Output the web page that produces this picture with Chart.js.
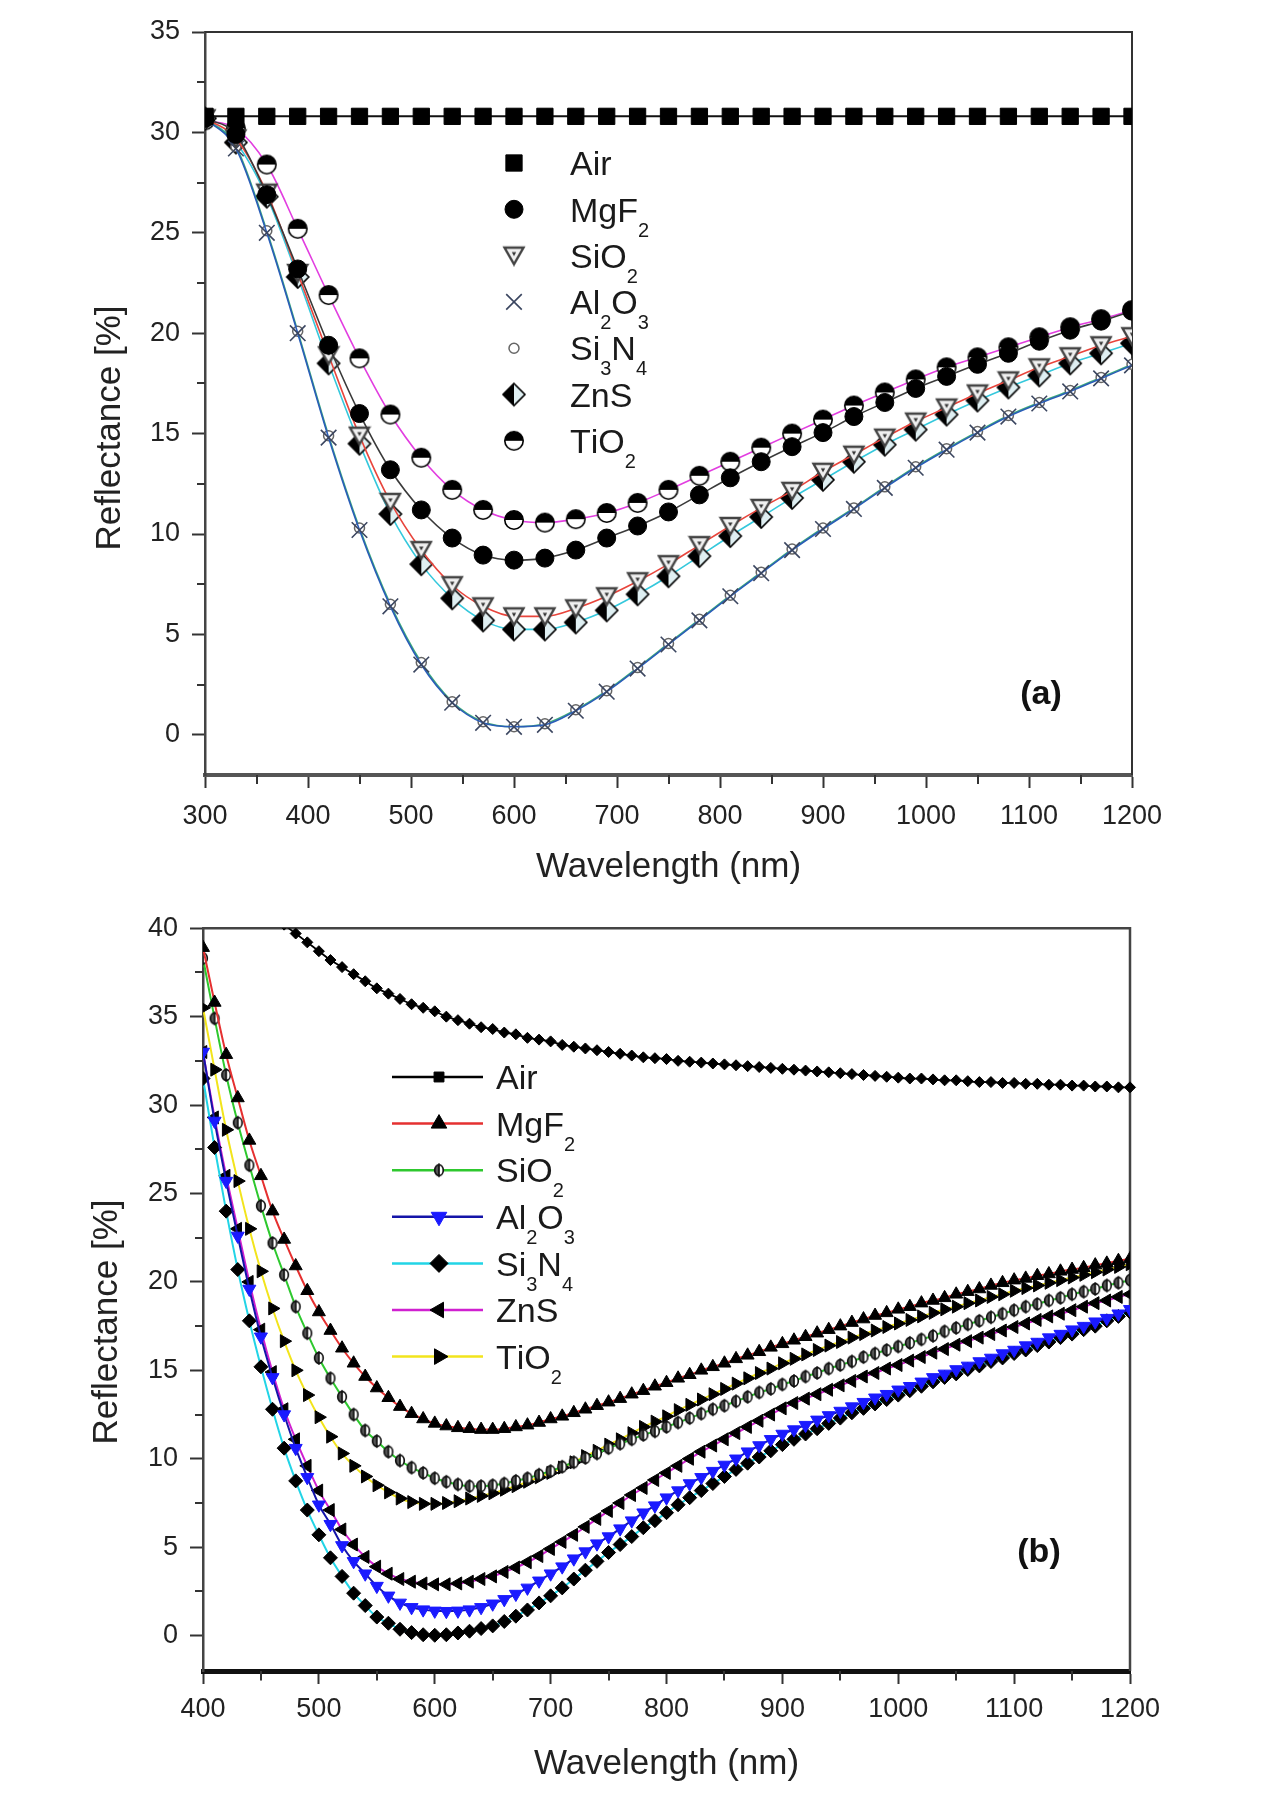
<!DOCTYPE html>
<html><head><meta charset="utf-8">
<script src="https://cdn.jsdelivr.net/npm/chart.js@4.4.1/dist/chart.umd.min.js"></script>
<style>
html,body{margin:0;padding:0;background:#fff;}
#wrap{position:relative;width:1280px;height:1808px;background:#fff;overflow:hidden;}
canvas{position:absolute;left:0;}
#ca{top:0;width:1280px;height:900px;}
#cb{top:900px;width:1280px;height:908px;}
</style></head><body>
<div id="wrap"><canvas id="ca" width="1280" height="900"></canvas><canvas id="cb" width="1280" height="908"></canvas></div>
<script>
// ---------- DATA ----------
const seriesNames = ['Air','MgF₂','SiO₂','Al₂O₃','Si₃N₄','ZnS','TiO₂'];
const xTitle = 'Wavelength (nm)';
const yTitle = 'Reflectance [%]';

// panel (a)
const xTicksA = [300,400,500,600,700,800,900,1000,1100,1200];
const yTicksA = [0,5,10,15,20,25,30,35];
const xMinorA = [350,450,550,650,750,850,950,1050,1150];
const yMinorA = [2.5,7.5,12.5,17.5,22.5,27.5,32.5];
const wavA = [300,330,360,390,420,450,480,510,540,570,600,630,660,690,720,750,780,810,840,870,900,930,960,990,1020,1050,1080,1110,1140,1170,1200];
const airA   = [30.8,30.8,30.8,30.8,30.8,30.8,30.8,30.8,30.8,30.8,30.8,30.8,30.8,30.8,30.8,30.8,30.8,30.8,30.8,30.8,30.8,30.8,30.8,30.8,30.8,30.8,30.8,30.8,30.8,30.8,30.8];
const mgf2A  = [30.7,29.9,26.9,23.2,19.4,16.0,13.2,11.2,9.8,8.95,8.7,8.8,9.2,9.8,10.4,11.1,11.95,12.8,13.6,14.35,15.05,15.85,16.55,17.25,17.85,18.45,19.0,19.6,20.15,20.6,21.1];
const sio2A  = [30.7,29.7,27.0,23.0,18.9,14.9,11.6,9.2,7.45,6.4,5.9,5.9,6.3,6.9,7.65,8.5,9.45,10.4,11.3,12.15,13.1,13.95,14.8,15.6,16.3,17.0,17.65,18.3,18.85,19.4,19.85];
const al2o3A = [30.7,29.2,25.0,20.0,14.8,10.2,6.4,3.5,1.6,0.6,0.4,0.5,1.2,2.15,3.3,4.5,5.7,6.9,8.05,9.2,10.25,11.25,12.3,13.3,14.2,15.05,15.85,16.5,17.1,17.75,18.4];
const si3n4A = [30.7,29.3,25.1,20.1,14.9,10.3,6.5,3.6,1.65,0.65,0.4,0.55,1.25,2.2,3.35,4.55,5.75,6.95,8.1,9.25,10.3,11.3,12.35,13.35,14.25,15.1,15.9,16.55,17.15,17.8,18.45];
const znsA   = [30.7,29.5,26.8,22.8,18.5,14.5,11.0,8.5,6.8,5.7,5.25,5.25,5.6,6.2,7.0,7.9,8.9,9.9,10.85,11.8,12.7,13.6,14.45,15.2,15.95,16.65,17.3,17.9,18.5,19.0,19.5];
const tio2A  = [30.6,30.2,28.4,25.2,21.9,18.75,15.95,13.8,12.2,11.2,10.7,10.57,10.74,11.05,11.55,12.2,12.9,13.6,14.3,15.0,15.7,16.4,17.05,17.7,18.3,18.8,19.3,19.8,20.3,20.7,21.15];

// panel (b)
const xTicksB = [400,500,600,700,800,900,1000,1100,1200];
const yTicksB = [0,5,10,15,20,25,30,35,40];
const xMinorB = [450,550,650,750,850,950,1050,1150];
const yMinorB = [2.5,7.5,12.5,17.5,22.5,27.5,32.5,37.5];
const wavB = [400,410,420,430,440,450,460,470,480,490,500,510,520,530,540,550,560,570,580,590,600,610,620,630,640,650,660,670,680,690,700,710,720,730,740,750,760,770,780,790,800,810,820,830,840,850,860,870,880,890,900,910,920,930,940,950,960,970,980,990,1000,1010,1020,1030,1040,1050,1060,1070,1080,1090,1100,1110,1120,1130,1140,1150,1160,1170,1180,1190,1200];
const airB = [47.0,45.6,44.3,43.2,42.3,41.5,40.8,40.2,39.7,39.2,
  38.7,38.2,37.8,37.4,37.0,36.6,36.3,36.0,35.7,35.5,
  35.3,35.0,34.8,34.6,34.4,34.3,34.1,34.0,33.8,33.7,
  33.6,33.4,33.3,33.2,33.1,33.0,32.9,32.8,32.7,32.65,
  32.6,32.5,32.45,32.4,32.35,32.3,32.25,32.2,32.15,32.1,
  32.05,32.0,31.95,31.9,31.85,31.8,31.75,31.7,31.65,31.6,
  31.55,31.5,31.5,31.45,31.4,31.4,31.35,31.3,31.3,31.25,
  31.25,31.2,31.2,31.15,31.15,31.1,31.1,31.05,31.05,31.0,
  31.0];
const mgf2B = [38.9,35.8,32.85,30.4,28.0,26.0,24.0,22.4,20.9,19.5,
  18.3,17.25,16.25,15.4,14.65,14.0,13.45,12.95,12.55,12.25,
  12.0,11.85,11.75,11.7,11.65,11.65,11.7,11.8,11.9,12.05,
  12.25,12.4,12.6,12.8,13.0,13.2,13.4,13.65,13.85,14.1,
  14.3,14.55,14.75,15.0,15.2,15.4,15.65,15.85,16.05,16.3,
  16.5,16.7,16.9,17.1,17.3,17.5,17.7,17.9,18.1,18.25,
  18.45,18.6,18.8,18.95,19.1,19.3,19.45,19.6,19.8,19.95,
  20.1,20.2,20.35,20.45,20.6,20.7,20.8,20.95,21.05,21.2,
  21.3];
const sio2B = [38.3,34.9,31.7,29.0,26.6,24.3,22.2,20.4,18.6,17.1,
  15.7,14.55,13.5,12.5,11.6,11.0,10.4,9.9,9.5,9.2,
  8.9,8.7,8.55,8.45,8.45,8.5,8.6,8.75,8.9,9.1,
  9.3,9.55,9.8,10.05,10.3,10.6,10.85,11.1,11.35,11.55,
  11.8,12.05,12.3,12.55,12.8,13.0,13.25,13.5,13.75,13.95,
  14.2,14.4,14.65,14.85,15.1,15.3,15.5,15.75,15.95,16.15,
  16.35,16.55,16.75,16.95,17.2,17.4,17.6,17.8,18.0,18.2,
  18.4,18.6,18.75,18.95,19.1,19.3,19.45,19.6,19.8,19.95,
  20.1];
const al2o3B = [33.0,29.1,25.7,22.6,19.6,16.9,14.6,12.5,10.6,8.95,
  7.4,6.3,5.1,4.2,3.5,2.8,2.25,1.85,1.6,1.47,
  1.4,1.38,1.4,1.47,1.6,1.8,2.05,2.35,2.7,3.1,
  3.5,3.9,4.35,4.75,5.2,5.6,6.05,6.5,6.95,7.35,
  7.8,8.2,8.6,8.95,9.3,9.65,10.0,10.4,10.75,11.1,
  11.4,11.65,11.9,12.2,12.45,12.7,12.95,13.2,13.45,13.65,
  13.9,14.1,14.35,14.6,14.8,15.05,15.25,15.5,15.7,15.95,
  16.15,16.4,16.6,16.85,17.05,17.3,17.5,17.75,17.95,18.2,
  18.45];
const si3n4B = [31.5,27.6,24.0,20.7,17.8,15.2,12.8,10.6,8.75,7.1,
  5.7,4.4,3.35,2.4,1.7,1.05,0.7,0.36,0.17,0.05,
  0.02,0.05,0.15,0.25,0.4,0.55,0.8,1.1,1.45,1.85,
  2.25,2.7,3.2,3.7,4.2,4.7,5.15,5.6,6.1,6.5,
  6.95,7.4,7.8,8.2,8.6,9.0,9.4,9.75,10.1,10.45,
  10.8,11.1,11.4,11.7,12.0,12.3,12.6,12.85,13.1,13.35,
  13.6,13.85,14.1,14.35,14.6,14.8,15.05,15.25,15.5,15.7,
  15.95,16.15,16.4,16.6,16.85,17.05,17.3,17.5,17.8,18.05,
  18.3];
const znsB = [33.0,29.3,26.0,23.0,20.0,17.3,14.9,12.8,11.1,9.6,
  8.2,7.1,6.0,5.15,4.45,3.9,3.5,3.2,3.05,2.95,
  2.9,2.9,2.95,3.05,3.2,3.35,3.6,3.85,4.15,4.5,
  4.9,5.3,5.7,6.15,6.6,7.05,7.5,7.95,8.35,8.8,
  9.2,9.6,10.0,10.4,10.75,11.1,11.45,11.8,12.15,12.5,
  12.85,13.15,13.4,13.65,13.9,14.15,14.4,14.65,14.85,15.1,
  15.3,15.55,15.75,16.0,16.2,16.45,16.65,16.85,17.05,17.25,
  17.45,17.65,17.85,18.05,18.2,18.4,18.6,18.8,18.95,19.15,
  19.3];
const tio2B = [35.5,32.0,28.6,25.7,23.0,20.6,18.5,16.65,15.0,13.6,
  12.35,11.25,10.3,9.6,9.0,8.5,8.1,7.75,7.55,7.45,
  7.45,7.5,7.6,7.75,7.9,8.05,8.25,8.45,8.7,8.95,
  9.2,9.5,9.8,10.15,10.45,10.8,11.1,11.45,11.8,12.1,
  12.4,12.75,13.05,13.35,13.65,13.95,14.25,14.55,14.85,15.1,
  15.4,15.65,15.9,16.15,16.4,16.6,16.85,17.05,17.25,17.45,
  17.65,17.85,18.05,18.25,18.45,18.6,18.8,18.95,19.15,19.3,
  19.5,19.65,19.8,19.95,20.1,20.25,20.4,20.55,20.7,20.85,
  21.0];

// ---------- RENDERING ----------
const FONT = '"Liberation Sans", Arial, Helvetica, sans-serif';
const pts = (xs, ys) => xs.map((x, i) => ({x: x, y: ys[i]}));

function mk(w, h, fn){ const c = document.createElement('canvas'); c.width = w; c.height = h; fn(c.getContext('2d')); return c; }

const imgTiO2 = mk(22, 22, g => {
  g.beginPath(); g.arc(11,11,9.2,0,Math.PI*2); g.fillStyle = '#fff'; g.fill();
  g.beginPath(); g.arc(11,11,9.2,Math.PI,Math.PI*2); g.closePath(); g.fillStyle = '#000'; g.fill();
  g.beginPath(); g.arc(11,11,9.2,0,Math.PI*2); g.lineWidth = 1.6; g.strokeStyle = '#000'; g.stroke();
});
const imgZnS = mk(26, 26, g => {
  const dia = () => { g.beginPath(); g.moveTo(13,2); g.lineTo(24,13); g.lineTo(13,24); g.lineTo(2,13); g.closePath(); };
  dia(); g.fillStyle = '#dfeff2'; g.fill();
  g.beginPath(); g.moveTo(13,2); g.lineTo(2,13); g.lineTo(13,24); g.closePath(); g.fillStyle = '#000'; g.fill();
  dia(); g.lineWidth = 1.6; g.strokeStyle = '#000'; g.stroke();
});
const imgSiO2a = mk(24, 22, g => {
  g.beginPath(); g.moveTo(2.5,3); g.lineTo(21.5,3); g.lineTo(12,19.5); g.closePath();
  g.fillStyle = '#f0f0f0'; g.fill(); g.lineWidth = 2.4; g.strokeStyle = '#444'; g.stroke();
  g.beginPath(); g.moveTo(9.8,7.5); g.lineTo(14.2,7.5); g.lineTo(12,11.5); g.closePath(); g.fillStyle = '#333'; g.fill();
});
const imgSiO2b = mk(14, 16, g => {
  g.beginPath(); g.ellipse(7,8,4.3,5.4,0,0,Math.PI*2); g.fillStyle = '#fff'; g.fill();
  g.beginPath(); g.ellipse(7,8,4.3,5.4,0,Math.PI*0.5,Math.PI*1.5); g.closePath(); g.fillStyle = '#555'; g.fill();
  g.beginPath(); g.ellipse(7,8,4.3,5.4,0,0,Math.PI*2);
  g.lineWidth = 1.7; g.strokeStyle = '#111'; g.stroke();
  g.beginPath(); g.moveTo(7,1.2); g.lineTo(7,14.8); g.stroke();
});

function richText(ctx, s, x, y, size, subSize, drop){
  let cx = x;
  for (const ch of s){
    const code = ch.codePointAt(0);
    if (code >= 0x2080 && code <= 0x2089){
      const d = String.fromCharCode(48 + code - 0x2080);
      ctx.font = subSize + 'px ' + FONT;
      ctx.fillText(d, cx, y + drop);
      cx += ctx.measureText(d).width;
    } else {
      ctx.font = size + 'px ' + FONT;
      ctx.fillText(ch, cx, y);
      cx += ctx.measureText(ch).width;
    }
  }
}

const decor = {
  id: 'decor',
  beforeDatasetsDraw(chart, args, o){
    const ctx = chart.ctx, a = chart.chartArea;
    const xs = chart.scales.x, ys = chart.scales.y;
    ctx.save();
    ctx.strokeStyle = o.frameColor; ctx.lineWidth = o.frameWidth;
    ctx.beginPath(); ctx.moveTo(a.left, a.top); ctx.lineTo(a.right, a.top); ctx.lineTo(a.right, a.bottom); ctx.stroke();
    ctx.strokeStyle = o.tickColor; ctx.lineWidth = 2;
    o.xMinor.forEach(v => { const p = Math.round(xs.getPixelForValue(v)); ctx.beginPath(); ctx.moveTo(p, a.bottom); ctx.lineTo(p, a.bottom + o.bottomHalf + o.minorLen); ctx.stroke(); });
    o.yMinor.forEach(v => { const p = Math.round(ys.getPixelForValue(v)); ctx.beginPath(); ctx.moveTo(a.left, p); ctx.lineTo(a.left - 1 - o.minorLen, p); ctx.stroke(); });
    ctx.restore();
  },
  afterDraw(chart, args, o){
    const ctx = chart.ctx;
    ctx.save();
    ctx.translate(o.yTitle.x, o.yTitle.y); ctx.rotate(-Math.PI/2);
    ctx.font = '35px ' + FONT; ctx.fillStyle = '#222'; ctx.textAlign = 'center'; ctx.textBaseline = 'middle';
    ctx.fillText(yTitle, 0, 0);
    ctx.restore();
    ctx.save();
    ctx.font = 'bold 34px ' + FONT; ctx.fillStyle = '#111'; ctx.textAlign = 'center'; ctx.textBaseline = 'middle';
    ctx.fillText(o.panel.text, o.panel.x, o.panel.y);
    ctx.restore();
    const L = o.legend;
    chart.data.datasets.forEach((ds, i) => {
      const y = L.y0 + i * L.dy;
      ctx.save();
      if (L.line){
        ctx.strokeStyle = ds.borderColor; ctx.lineWidth = 2.5;
        ctx.beginPath(); ctx.moveTo(L.line[0], y); ctx.lineTo(L.line[1], y); ctx.stroke();
      }
      const lp = ds.legendPoint || {};
      const style = lp.pointStyle !== undefined ? lp.pointStyle : ds.pointStyle;
      const radius = lp.radius !== undefined ? lp.radius : ds.pointRadius;
      const rotation = lp.rotation !== undefined ? lp.rotation : (ds.pointRotation || 0);
      ctx.fillStyle = ds.pointBackgroundColor || '#000';
      ctx.strokeStyle = ds.pointBorderColor || '#000';
      ctx.lineWidth = ds.pointBorderWidth || 1;
      Chart.helpers.drawPoint(ctx, {pointStyle: style, radius: radius, rotation: rotation, borderWidth: ds.pointBorderWidth || 1}, L.markerX, y);
      ctx.restore();
      ctx.save();
      ctx.fillStyle = '#1a1a1a'; ctx.textAlign = 'left'; ctx.textBaseline = 'alphabetic';
      richText(ctx, ds.label, L.textX, y + 0.36 * L.size, L.size, L.subSize, L.drop);
      ctx.restore();
    });
  }
};

function axes(xMin, xMax, yMin, yMax, xT, yT, yW, xH, xPad, titlePad, bottomW){
  const tickFont = {family: FONT, size: 27};
  return {
    x: {
      type: 'linear', min: xMin, max: xMax,
      afterBuildTicks: s => { s.ticks = xT.map(v => ({value: v})); },
      afterFit: s => { s.height = xH; },
      ticks: {autoSkip: false, maxRotation: 0, padding: xPad, color: '#222', font: tickFont, callback: v => String(v)},
      grid: {drawOnChartArea: false, drawTicks: true, tickLength: 13, tickWidth: 2, tickColor: '#333'},
      border: {display: true, color: bottomW > 4 ? '#111' : '#555', width: bottomW},
      title: {display: true, text: xTitle, color: '#222', font: {family: FONT, size: 35}, padding: {top: 0, bottom: titlePad}}
    },
    y: {
      type: 'linear', min: yMin, max: yMax,
      afterBuildTicks: s => { s.ticks = yT.map(v => ({value: v})); },
      afterFit: s => { s.width = yW; },
      ticks: {autoSkip: false, padding: 12, color: '#222', font: tickFont, callback: v => String(v)},
      grid: {drawOnChartArea: false, drawTicks: true, tickLength: 13, tickWidth: 2, tickColor: '#333'},
      border: {display: true, color: '#444', width: 2.5}
    }
  };
}

const common = (ds) => Object.assign({fill: false, cubicInterpolationMode: 'monotone', borderWidth: 1.6}, ds);

const dsA = [
  common({label: seriesNames[0], data: pts(wavA, airA), borderColor: '#111', borderWidth: 2, pointStyle: 'rect', pointRadius: 11.5, pointBackgroundColor: '#000', pointBorderColor: '#000', pointBorderWidth: 1}),
  common({label: seriesNames[1], data: pts(wavA, mgf2A), borderColor: '#3a3a3a', pointStyle: 'circle', pointRadius: 9, pointBackgroundColor: '#000', pointBorderColor: '#000', pointBorderWidth: 1}),
  common({label: seriesNames[2], data: pts(wavA, sio2A), borderColor: '#e8453c', pointStyle: imgSiO2a, pointRadius: 10}),
  common({label: seriesNames[3], data: pts(wavA, al2o3A), borderColor: '#2a5db8', pointStyle: 'crossRot', pointRadius: 11, pointBackgroundColor: 'rgba(0,0,0,0)', pointBorderColor: '#3b4660', pointBorderWidth: 1.6}),
  common({label: seriesNames[4], data: pts(wavA, si3n4A), borderColor: '#3fae7a', pointStyle: 'circle', pointRadius: 5, pointBackgroundColor: '#fff', pointBorderColor: '#666', pointBorderWidth: 1.5}),
  common({label: seriesNames[5], data: pts(wavA, znsA), borderColor: '#35c8dc', pointStyle: imgZnS, pointRadius: 11}),
  common({label: seriesNames[6], data: pts(wavA, tio2A), borderColor: '#e23ee0', pointStyle: imgTiO2, pointRadius: 10})
];

const dsB = [
  common({label: seriesNames[0], data: pts(wavB, airB), borderColor: '#000', borderWidth: 1.8, pointStyle: 'rectRot', pointRadius: 5.5, pointBackgroundColor: '#000', pointBorderColor: '#000', pointBorderWidth: 1, clip: {left: 10, top: 0, right: 10, bottom: 10}, legendPoint: {pointStyle: 'rect', radius: 7}}),
  common({label: seriesNames[1], data: pts(wavB, mgf2B), borderColor: '#e53030', borderWidth: 2, pointStyle: 'triangle', pointRadius: 7.5, pointBackgroundColor: '#000', pointBorderColor: '#000', pointBorderWidth: 1, legendPoint: {radius: 9}}),
  common({label: seriesNames[2], data: pts(wavB, sio2B), borderColor: '#2ec82e', borderWidth: 2, pointStyle: imgSiO2b, pointRadius: 7}),
  common({label: seriesNames[3], data: pts(wavB, al2o3B), borderColor: '#1414a8', borderWidth: 2, pointStyle: 'triangle', pointRotation: 180, pointRadius: 7.5, pointBackgroundColor: '#1a1aff', pointBorderColor: '#1a1aff', pointBorderWidth: 1, legendPoint: {radius: 9}}),
  common({label: seriesNames[4], data: pts(wavB, si3n4B), borderColor: '#22d4e6', borderWidth: 2, pointStyle: 'rectRot', pointRadius: 7, pointBackgroundColor: '#000', pointBorderColor: '#000', pointBorderWidth: 1, legendPoint: {radius: 9}}),
  common({label: seriesNames[5], data: pts(wavB, znsB), borderColor: '#d020d0', borderWidth: 2, pointStyle: 'triangle', pointRotation: -90, pointRadius: 7.5, pointBackgroundColor: '#000', pointBorderColor: '#000', pointBorderWidth: 1, legendPoint: {radius: 9}}),
  common({label: seriesNames[6], data: pts(wavB, tio2B), borderColor: '#f2e41c', borderWidth: 2, pointStyle: 'triangle', pointRotation: 90, pointRadius: 7.5, pointBackgroundColor: '#000', pointBorderColor: '#000', pointBorderWidth: 1, legendPoint: {radius: 9}})
];

const baseOpts = {responsive: false, animation: false, events: [], devicePixelRatio: 1};

new Chart(document.getElementById('ca'), {
  type: 'line',
  data: {datasets: dsA},
  plugins: [decor],
  options: Object.assign({}, baseOpts, {
    layout: {padding: {left: 0, right: 148, top: 32, bottom: 0}},
    scales: axes(300, 1200, -2, 35, xTicksA, yTicksA, 205, 125, 12, 12, 4),
    plugins: {
      legend: {display: false}, tooltip: {enabled: false},
      decor: {frameColor: '#333', frameWidth: 2, tickColor: '#333', minorLen: 7, bottomHalf: 2, xMinor: xMinorA, yMinor: yMinorA,
        yTitle: {x: 110, y: 428}, panel: {text: '(a)', x: 1041, y: 695},
        legend: {markerX: 514, textX: 570, y0: 163, dy: 46.3, size: 34, subSize: 20, drop: 15, line: null}}
    }
  })
});

new Chart(document.getElementById('cb'), {
  type: 'line',
  data: {datasets: dsB},
  plugins: [decor],
  options: Object.assign({}, baseOpts, {
    layout: {padding: {left: 0, right: 150, top: 26, bottom: 0}},
    scales: axes(400, 1200, -2, 40, xTicksB, yTicksB, 203, 137, 9, 23, 5),
    plugins: {
      legend: {display: false}, tooltip: {enabled: false},
      decor: {frameColor: '#444', frameWidth: 2.5, tickColor: '#333', minorLen: 7, bottomHalf: 2.5, xMinor: xMinorB, yMinor: yMinorB,
        yTitle: {x: 107, y: 422}, panel: {text: '(b)', x: 1039, y: 653},
        legend: {line: [392, 483], markerX: 439, textX: 496, y0: 177, dy: 46.6, size: 34, subSize: 20, drop: 15}}
    }
  })
});
</script>
</body></html>
